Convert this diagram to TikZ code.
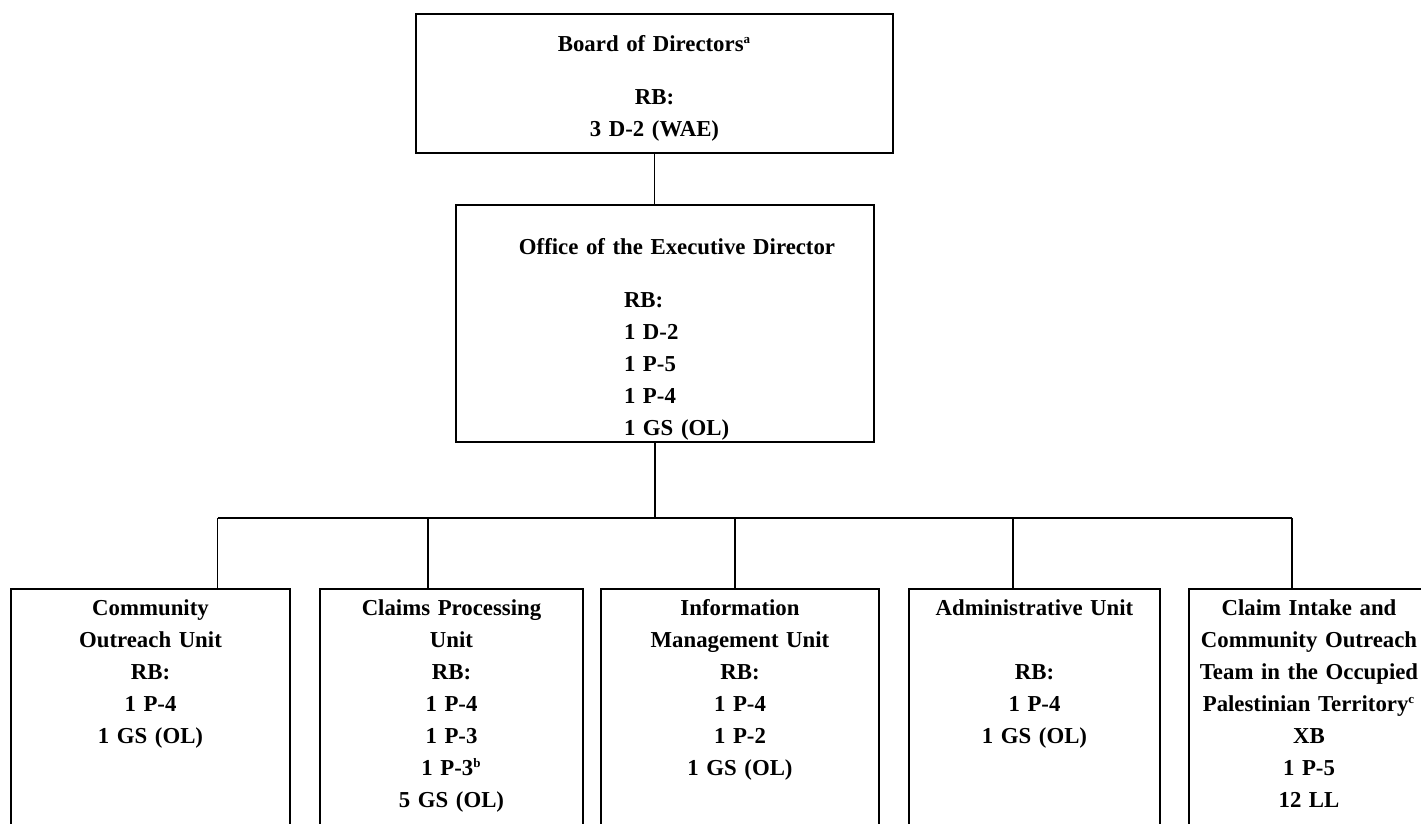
\documentclass[tikz,border=0pt]{standalone}
\usepackage{fontspec}
\setmainfont{Liberation Serif}
\usepackage{tikz}
\usetikzlibrary{positioning}

\newcommand{\fnmark}[1]{\textsuperscript{\fontsize{6.5}{6.5}\selectfont #1}}

\begin{document}
\begin{tikzpicture}[x=0.5pt, y=-0.5pt,
        unit/.style={draw, line width=1pt, align=center, inner xsep=0pt, inner ysep=0pt,
        font=\bfseries\fontsize{11.4}{16}\selectfont},
        link/.style={line width=0.8pt}]

        \useasboundingbox (0,0) rectangle (1421,824);
        \clip (0,0) rectangle (1421,824);

        \node[unit, text width=238.5pt, anchor=north] (board) at (654.5,13)
        {\rule{0pt}{18.75pt}Board of Directors\fnmark{a}\\[10.4pt]RB:\\3 D-2 (WAE)\rule[-8.6pt]{0pt}{0pt}};

        \node[unit, text width=209pt, below=25pt of board, xshift=5.25pt] (office)
        {\rule{0pt}{24.75pt}\hspace*{12pt}Office of the Executive Director\\[10.4pt]
        \makebox[41pt][l]{RB:}\\\makebox[41pt][l]{1 D-2}\\\makebox[41pt][l]{1 P-5}\\
        \makebox[41pt][l]{1 P-4}\\\smash{\makebox[41pt][l]{1 GS (OL)}}\rule[-3pt]{0pt}{0pt}};

        % units, tops level, running off the page
        \node[unit, text width=139.5pt, anchor=north west] (outreach) at (10,588)
        {\rule{0pt}{13.25pt}Community\\Outreach Unit\\RB:\\1 P-4\\1 GS (OL)\rule[-130pt]{0pt}{0pt}};
        \node[unit, text width=131.5pt, right=14pt of outreach.north east, anchor=north west] (claims)
        {\rule{0pt}{13.25pt}Claims Processing\\Unit\\RB:\\1 P-4\\1 P-3\\1 P-3\fnmark{b}\\5 GS (OL)\rule[-130pt]{0pt}{0pt}};
        \node[unit, text width=139pt, right=8pt of claims.north east, anchor=north west] (info)
        {\rule{0pt}{13.25pt}Information\\Management Unit\\RB:\\1 P-4\\1 P-2\\1 GS (OL)\rule[-130pt]{0pt}{0pt}};
        \node[unit, text width=125.5pt, right=14pt of info.north east, anchor=north west] (admin)
        {\rule{0pt}{13.25pt}Administrative Unit\\[16pt]RB:\\1 P-4\\1 GS (OL)\rule[-130pt]{0pt}{0pt}};
        \node[unit, text width=120pt, right=13.5pt of admin.north east, anchor=north west] (intake)
        {\rule{0pt}{13.25pt}Claim Intake and\\Community Outreach\\Team in the Occupied\\Palestinian Territory\fnmark{c}\\XB\\1 P-5\\12 LL\rule[-130pt]{0pt}{0pt}};

        \draw[link] (board.south) -- (board.south |- office.north);

        \coordinate (bus) at (655,518);
        \coordinate (busL) at (217.6,518);
        \coordinate (busR) at (1292,518);
        \draw[link] (bus |- office.south) -- (bus);
        \draw[link] (busL) -- (busR);
        \draw[link] (busL) -- (busL |- outreach.north);
        \foreach \x/\n in {428/claims, 735/info, 1013/admin, 1292/intake}{
            \coordinate (drop\n) at (\x,518);
            \draw[link] (drop\n) -- (drop\n |- \n.north);
        }

    \end{tikzpicture}
\end{document}
